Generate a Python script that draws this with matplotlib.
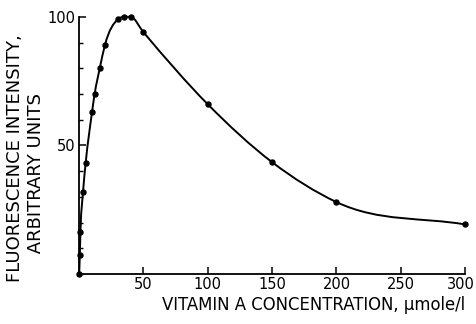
import numpy as np
import matplotlib
matplotlib.use("Agg")
import matplotlib.pyplot as plt
from matplotlib.path import Path
from matplotlib.patches import PathPatch
from matplotlib.transforms import ScaledTranslation
from matplotlib.ticker import MultipleLocator, FixedLocator

# vitamin A concentration (umole/l) and fluorescence intensity (arbitrary units)
conc = [0, 0.5, 1, 3, 5, 10, 12, 16, 20, 30, 35, 40, 50, 100, 150, 200, 300]
intensity = [0, 7.5, 16.5, 32, 43, 63, 70, 80, 89, 99, 100, 100, 94, 66, 43.5, 28, 19.3]

x_ticks = [50, 100, 150, 200, 250, 300]
y_ticks = [50, 100]


def smooth_path(x, y):
    """Cubic Hermite curve through the points (drawn as Bezier segments)."""
    x = np.asarray(x, float)
    y = np.asarray(y, float)
    h = np.diff(x)
    d = np.diff(y) / h
    m = np.zeros_like(y)
    m[0], m[-1] = d[0], d[-1]
    for i in range(1, len(x) - 1):
        if d[i - 1] * d[i] <= 0:
            m[i] = 0.0
        else:
            m[i] = (h[i] * d[i - 1] + h[i - 1] * d[i]) / (h[i - 1] + h[i])
    # keep each piece monotone
    for i in range(len(x) - 1):
        if d[i] == 0:
            m[i] = m[i + 1] = 0.0
            continue
        a, b = m[i] / d[i], m[i + 1] / d[i]
        s = a * a + b * b
        if s > 9:
            t = 3 / np.sqrt(s)
            m[i], m[i + 1] = t * a * d[i], t * b * d[i]
    verts = [(x[0], y[0])]
    codes = [Path.MOVETO]
    for i in range(len(x) - 1):
        verts += [(x[i] + h[i] / 3, y[i] + m[i] * h[i] / 3),
                  (x[i + 1] - h[i] / 3, y[i + 1] - m[i + 1] * h[i] / 3),
                  (x[i + 1], y[i + 1])]
        codes += [Path.CURVE4] * 3
    return Path(verts, codes)


fig = plt.figure(figsize=(4.77, 3.24), dpi=100)
ax = fig.add_axes([0.166, 0.154, 0.809, 0.794])

ax.add_patch(PathPatch(smooth_path(conc, intensity), fill=False, ec="black",
                       lw=1.4, clip_on=False, zorder=3))
ax.plot(conc, intensity, ls="none", color="black", marker="o", ms=3.6,
        clip_on=False, zorder=4)

ax.set_xlim(0, 300)
ax.set_ylim(0, 100)
ax.spines["top"].set_visible(False)
ax.spines["right"].set_visible(False)
for s in ("left", "bottom"):
    ax.spines[s].set_linewidth(1.3)

ax.xaxis.set_major_locator(FixedLocator(x_ticks))
ax.yaxis.set_major_locator(FixedLocator(y_ticks))
ax.yaxis.set_minor_locator(MultipleLocator(10))
ax.tick_params(axis="both", which="major", direction="in", length=5, width=1.1,
               labelsize=10.5, pad=3)
ax.tick_params(axis="x", which="major", pad=2)
ax.tick_params(axis="y", which="minor", direction="in", length=3, width=1.0)

# nudge the last x label so it stays inside the figure
last = ax.get_xticklabels()[-1]
last.set_transform(last.get_transform() + ScaledTranslation(-4 / 100, 0, fig.dpi_scale_trans))

ax.set_xlabel("VITAMIN A CONCENTRATION, \u03bcmole/l", fontsize=11.9, labelpad=3,
              loc="right")
fig.text(0.012, 0.13, "FLUORESCENCE INTENSITY,\n     ARBITRARY UNITS",
         rotation=90, fontsize=13, ha="left", va="bottom",
         multialignment="left", linespacing=1.25)

fig.savefig("out.png", dpi=100)
